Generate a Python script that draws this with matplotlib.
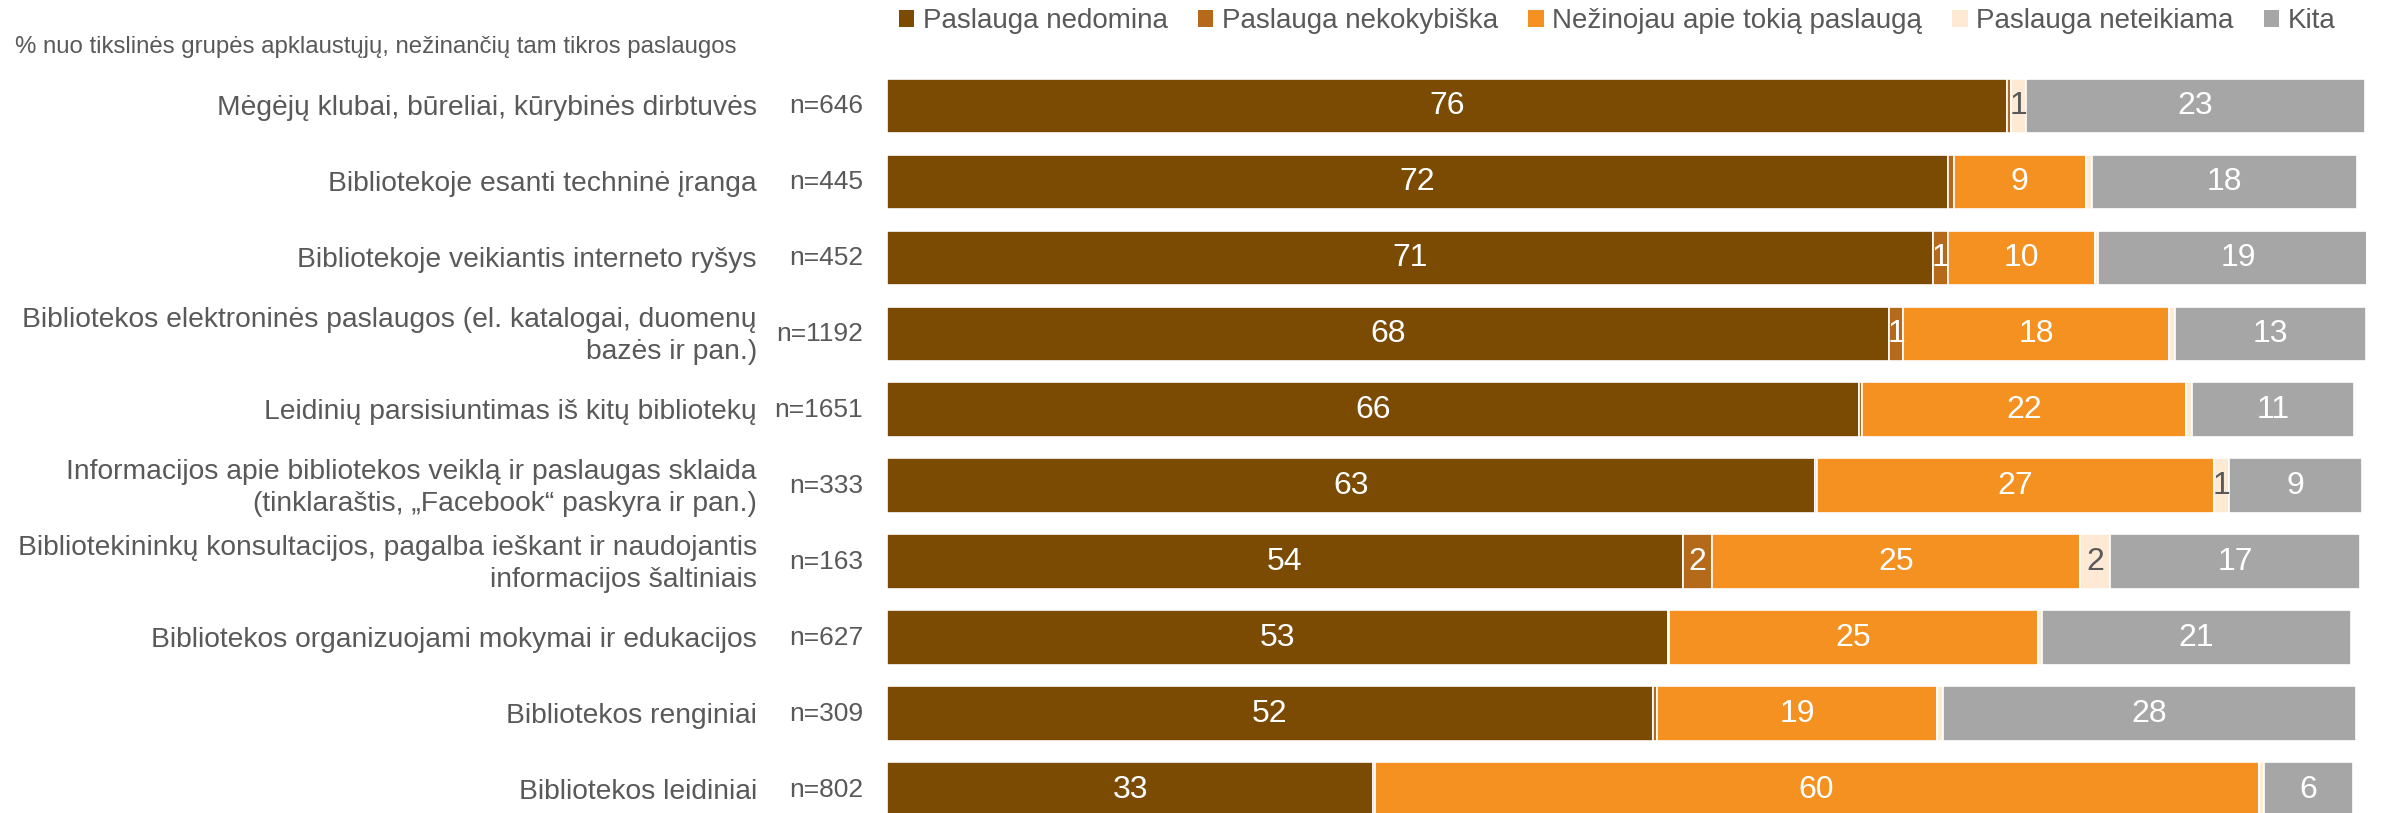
import matplotlib
matplotlib.use("Agg")
import matplotlib.pyplot as plt
import matplotlib.transforms as mtransforms
from matplotlib.patches import Patch

plt.rcParams['font.family'] = ['Liberation Sans', 'DejaVu Sans']

# --- data -------------------------------------------------------------------
categories = [
    "Mėgėjų klubai, būreliai, kūrybinės dirbtuvės",
    "Bibliotekoje esanti techninė įranga",
    "Bibliotekoje veikiantis interneto ryšys",
    "Bibliotekos elektroninės paslaugos (el. katalogai, duomenų\nbazės ir pan.)",
    "Leidinių parsisiuntimas iš kitų bibliotekų",
    "Informacijos apie bibliotekos veiklą ir paslaugas sklaida\n(tinklaraštis, „Facebook“ paskyra ir pan.)",
    "Bibliotekininkų konsultacijos, pagalba ieškant ir naudojantis\ninformacijos šaltiniais",
    "Bibliotekos organizuojami mokymai ir edukacijos",
    "Bibliotekos renginiai",
    "Bibliotekos leidiniai",
]
sample_sizes = ["n=646", "n=445", "n=452", "n=1192", "n=1651",
                "n=333", "n=163", "n=627", "n=309", "n=802"]

nedomina = [76, 72, 71, 68, 66, 63, 54, 53, 52, 33]
nekokybiska = [0.3, 0.4, 1, 1, 0.2, 0.1, 2, 0.1, 0.3, 0.1]
nezinojau = [0, 9, 10, 18, 22, 27, 25, 25, 19, 60]
neteikiama = [1, 0.4, 0.2, 0.4, 0.4, 1, 2, 0.3, 0.4, 0.4]
kita = [23, 18, 19, 13, 11, 9, 17, 21, 28, 6]

series_names = ["Paslauga nedomina", "Paslauga nekokybiška",
                "Nežinojau apie tokią paslaugą", "Paslauga neteikiama", "Kita"]
series_values = [nedomina, nekokybiska, nezinojau, neteikiama, kita]
series_colors = ["#7B4A03", "#B5691A", "#F59120", "#FDE9D4", "#A6A6A6"]
label_colors = ["white", "white", "white", "#595959", "white"]

subtitle = "% nuo tikslinės grupės apklaustųjų, nežinančių tam tikros paslaugos"
text_grey = "#595959"

# --- figure -----------------------------------------------------------------
fig = plt.figure(figsize=(23.82, 8.13), dpi=100)
ax = fig.add_axes([0.3724, -0.018, 0.6209, 0.9344])

ypos = list(range(len(categories)))
left = [0.0] * len(categories)
for vals, name, color, lcol in zip(series_values, series_names, series_colors, label_colors):
    bars = ax.barh(ypos, vals, left=left, height=0.72, color=color,
                   edgecolor="white", linewidth=1.2, label=name)
    for rect, v in zip(bars, vals):
        if v >= 0.5:
            ax.text(rect.get_x() + rect.get_width() / 2, rect.get_y() + rect.get_height() / 2,
                    f"{v:.0f}", ha="center", va="center", color=lcol, fontsize=23)
    left = [l + v for l, v in zip(left, vals)]

ax.set_xlim(0, 100.4)
ax.set_ylim(len(categories) - 0.5, -0.5)
ax.axis("off")

# row labels and sample sizes, placed in figure x / data y
trans = mtransforms.blended_transform_factory(fig.transFigure, ax.transData)
for y, cat, n in zip(ypos, categories, sample_sizes):
    ax.text(0.3178, y + 0.03, cat, transform=trans, ha="right", va="center",
            multialignment="right", color=text_grey, fontsize=20.3,
            linespacing=1.3, clip_on=False)
    ax.text(0.3623, y, n, transform=trans, ha="right", va="center",
            color=text_grey, fontsize=19, clip_on=False)

fig.text(0.0063, 0.942, subtitle, ha="left", va="center", color=text_grey, fontsize=17.3)

handles = [Patch(facecolor=c, edgecolor="none") for c in series_colors]
fig.legend(handles, series_names, loc="center left", bbox_to_anchor=(0.3774, 0.974),
           borderaxespad=0, borderpad=0, ncol=5, frameon=False, fontsize=20,
           handlelength=0.55, handleheight=0.55, handletextpad=0.3,
           columnspacing=1.1, labelcolor=text_grey)

fig.savefig("out.png", dpi=100)
